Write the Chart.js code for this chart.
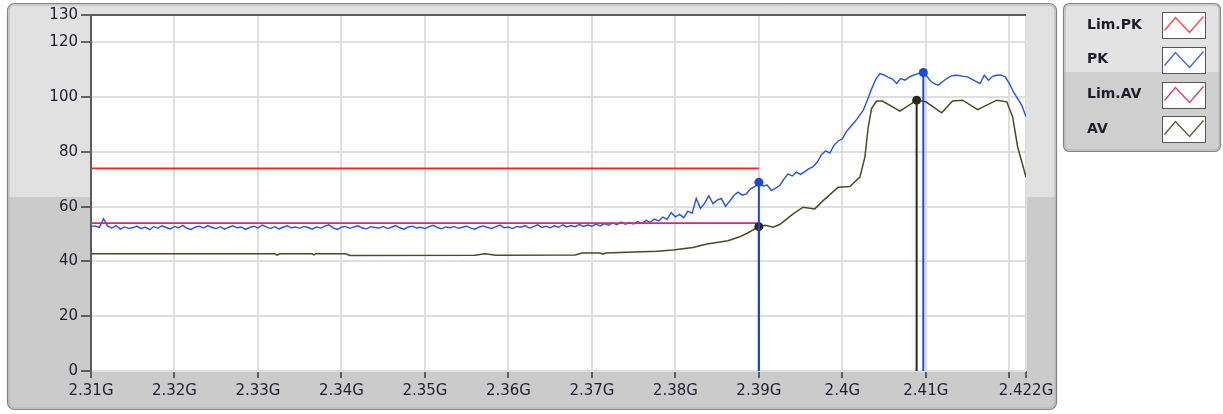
<!DOCTYPE html>
<html>
<head>
<meta charset="utf-8">
<script src="https://cdn.jsdelivr.net/npm/chart.js"></script>
<style>
  body { margin: 0; background: #fff; }
  canvas { display: block; }
</style>
</head>
<body>
<canvas id="grafico" width="1223" height="414"></canvas>
<script>
// eixo x em GHz
const xTickValues = [2.31, 2.32, 2.33, 2.34, 2.35, 2.36, 2.37, 2.38, 2.39, 2.40, 2.41, 2.42, 2.422];
const xTickLabels = ['2.31G', '2.32G', '2.33G', '2.34G', '2.35G', '2.36G', '2.37G', '2.38G', '2.39G', '2.4G', '2.41G', '', '2.422G'];
const yTickValues = [0, 20, 40, 60, 80, 100, 120, 130];

// limites
const limFreq = [2.31, 2.39];
const limPkLevel = [74, 74];
const limAvLevel = [54, 54];

// PK - varredura com passo fixo
const pkStart = 2.31;
const pkStep = 0.0005;
const pkLevel = [
  52.8, 53.0, 52.4, 55.6, 52.9, 52.2, 53.1, 51.8, 52.6, 52.1,
  52.3, 52.9, 52.0, 52.6, 51.6, 52.7, 52.2, 53.0, 52.4, 51.9,
  52.8, 52.3, 53.2, 52.1, 51.7, 52.6, 52.9, 52.2, 53.1, 52.4,
  52.0, 52.7, 51.8, 52.5, 53.0, 52.3, 52.6, 51.7, 52.4, 52.9,
  52.2, 53.3, 52.6, 52.0, 52.7, 51.9, 52.5, 53.0, 52.3, 52.6,
  52.1, 52.8, 52.4, 51.8, 52.6, 52.2, 52.9, 53.4, 52.3, 51.7,
  52.5, 52.8, 52.1, 52.6, 53.0, 52.2, 51.9, 52.7, 52.4, 52.2,
  52.8, 52.0, 52.5, 53.1, 52.3, 51.8, 52.6, 52.9, 52.2, 52.5,
  52.0, 52.7, 53.2, 52.4, 51.9, 52.6, 52.3, 52.8, 52.1, 52.5,
  52.9, 52.2, 51.8, 52.6, 53.0, 52.4, 52.1, 52.7, 53.3, 52.3,
  52.6, 52.0, 52.8, 52.5, 53.1, 52.2, 52.7, 53.4, 52.4, 52.9,
  52.3, 53.0, 52.5, 53.4, 52.6, 53.1, 52.7, 53.5, 52.8, 53.3,
  52.9, 53.6, 53.0, 53.8, 53.2, 54.1, 53.4, 54.4, 53.6, 54.2,
  53.7, 54.6, 53.8, 55.0, 54.3, 55.5, 54.8, 56.2, 55.4, 57.8,
  56.3, 57.2, 56.0, 58.4, 57.6, 63.0, 59.4, 61.2, 64.0, 61.1,
  62.4, 63.0, 60.2, 62.0, 64.1, 65.3, 64.2, 64.7, 66.5, 67.3,
  68.9, 67.6, 67.9, 65.9, 66.8, 67.7, 70.1, 72.0, 71.2, 72.6,
  71.8, 72.8, 73.9, 74.6, 76.3, 79.0, 80.4, 79.6, 82.4, 84.0,
  84.8, 87.5, 89.3, 91.0, 93.1, 95.2, 99.0, 103.0, 106.5, 108.6,
  108.1, 107.2, 106.6, 105.0, 106.8, 106.2, 107.3, 108.0, 108.5, 109.0,
  108.2, 106.1, 104.9, 104.4, 105.6, 106.8, 107.7, 108.0, 107.9, 107.6,
  107.4, 106.6, 105.8, 105.0, 108.0, 106.2, 107.6, 108.0, 108.1, 107.4,
  105.0, 101.9, 99.5, 97.0, 92.8
];

// AV
const avFreq = [2.31, 2.3320, 2.3323, 2.3326, 2.3365, 2.3367, 2.3369, 2.3405, 2.3410, 2.3560,
  2.3572, 2.3585, 2.3680, 2.3688, 2.3710, 2.3713, 2.3716, 2.3778, 2.3797, 2.3821,
  2.3838, 2.3863, 2.3877, 2.3886, 2.3900, 2.3908, 2.3917, 2.3925, 2.3941, 2.3953,
  2.3967, 2.3977, 2.3995, 2.4009, 2.4021, 2.4027, 2.4031, 2.4035, 2.4041, 2.4048,
  2.4069, 2.4089, 2.4100, 2.4119, 2.4132, 2.4144, 2.4162, 2.4185, 2.4197, 2.4204,
  2.4210, 2.4220];
const avLevel = [42.8, 42.8, 42.3, 42.8, 42.8, 42.4, 42.8, 42.8, 42.2, 42.3,
  42.8, 42.3, 42.4, 43.1, 43.1, 42.7, 43.1, 43.7, 44.2, 45.1,
  46.4, 47.6, 49.0, 50.3, 52.7, 53.2, 52.5, 53.5, 57.4, 59.8,
  59.2, 62.2, 67.1, 67.4, 70.8, 78.1, 89.1, 95.8, 98.6, 98.6,
  94.9, 98.9, 98.3, 94.3, 98.6, 98.9, 95.4, 98.9, 98.3, 92.8,
  81.8, 70.8];

// cursores
const cursorPkFreq = [2.39, 2.4097];
const cursorPkLevel = [68.9, 109.0];
const cursorAvFreq = [2.39, 2.4089];
const cursorAvLevel = [52.7, 98.9];

const corLimPk = '#ff1e1e';
const corPk = '#2652dc';
const corLimAv = '#d42a7e';
const corAv = '#4a4a26';

function pontos(fx, fy) {
  return fx.map(function (f, i) { return { x: f, y: fy[i] }; });
}

function cursor(f, nivel, cor, ordem) {
  return {
    label: '_cursor',
    data: [{ x: f, y: 0 }, { x: f, y: nivel }],
    borderColor: cor,
    backgroundColor: cor,
    borderWidth: 2,
    pointRadius: [0, 4.5],
    pointBorderWidth: 0,
    order: ordem
  };
}

const pkData = pkLevel.map(function (v, i) { return { x: pkStart + i * pkStep, y: v }; });

const datasets = [
  { label: 'Lim.PK', data: pontos(limFreq, limPkLevel), borderColor: corLimPk, legendColor: '#ff4545', borderWidth: 1.6, pointRadius: 0, order: 5 },
  { label: 'PK', data: pkData, borderColor: corPk, legendColor: '#3a64e6', borderWidth: 1.4, pointRadius: 0, order: 4 },
  { label: 'Lim.AV', data: pontos(limFreq, limAvLevel), borderColor: corLimAv, legendColor: '#e0348a', borderWidth: 1.8, pointRadius: 0, order: 3 },
  { label: 'AV', data: pontos(avFreq, avLevel), borderColor: corAv, legendColor: '#5c5c34', borderWidth: 1.5, pointRadius: 0, order: 2 }
];
for (let i = 0; i < cursorAvFreq.length; i++) {
  datasets.push(cursor(cursorAvFreq[i], cursorAvLevel[i], '#2a2a10', 1));
}
for (let i = 0; i < cursorPkFreq.length; i++) {
  datasets.push(cursor(cursorPkFreq[i], cursorPkLevel[i], '#1c4ad8', 0));
}

function caixa(ctx, x, y, w, h, r, split, corCima, corBaixo) {
  ctx.save();
  ctx.beginPath();
  ctx.roundRect(x, y, w, h, r);
  ctx.clip();
  ctx.fillStyle = corCima;
  ctx.fillRect(x, y, w, split - y);
  ctx.fillStyle = corBaixo;
  ctx.fillRect(x, split, w, y + h - split);
  ctx.restore();
  ctx.save();
  ctx.beginPath();
  ctx.roundRect(x + 1.5, y + 1.5, w - 3, h - 3, r - 1);
  ctx.strokeStyle = '#b4b4b4';
  ctx.lineWidth = 1;
  ctx.stroke();
  ctx.beginPath();
  ctx.roundRect(x, y, w, h, r);
  ctx.strokeStyle = '#858585';
  ctx.lineWidth = 1.2;
  ctx.stroke();
  ctx.restore();
}

const painel = {
  id: 'painel',
  beforeDraw: function (chart) {
    const ctx = chart.ctx;
    const a = chart.chartArea;
    ctx.save();
    ctx.fillStyle = '#fff';
    ctx.fillRect(0, 0, chart.width, chart.height);
    ctx.restore();
    caixa(ctx, 7.5, 3.5, 1049, 406, 7, 197, '#e1e1e1', '#cbcbcb');
    caixa(ctx, 1063.5, 3.5, 157, 148, 6, 72, '#e3e3e3', '#cfcfcf');
    ctx.save();
    ctx.fillStyle = '#fff';
    ctx.fillRect(a.left, a.top, a.right - a.left, a.bottom - a.top);
    ctx.restore();
  },
  afterDraw: function (chart) {
    // legenda
    const ctx = chart.ctx;
    ctx.save();
    ctx.font = 'bold 14px "DejaVu Sans"';
    ctx.textBaseline = 'middle';
    for (let i = 0; i < 4; i++) {
      const ds = chart.data.datasets[i];
      const cy = 25 + i * 34.8;
      ctx.fillStyle = '#1c1c2a';
      ctx.fillText(ds.label, 1087, cy);
      const bx = 1162.5, by = Math.round(cy - 13) + 0.5;
      ctx.fillStyle = '#fff';
      ctx.fillRect(bx, by, 43, 26);
      ctx.strokeStyle = '#555';
      ctx.lineWidth = 1;
      ctx.strokeRect(bx, by, 43, 26);
      ctx.beginPath();
      ctx.moveTo(bx + 2, by + 18);
      ctx.lineTo(bx + 13, by + 5);
      ctx.lineTo(bx + 27, by + 20);
      ctx.lineTo(bx + 41, by + 4);
      ctx.strokeStyle = ds.legendColor;
      ctx.lineWidth = 1.3;
      ctx.stroke();
    }
    ctx.restore();
  }
};

const myChart = new Chart(document.getElementById('grafico'), {
  type: 'line',
  data: { datasets: datasets },
  options: {
    responsive: false,
    animation: false,
    devicePixelRatio: 1,
    layout: { padding: { left: 0, top: 15, right: 197, bottom: 0 } },
    elements: { line: { tension: 0 } },
    plugins: {
      legend: { display: false },
      tooltip: { enabled: false }
    },
    scales: {
      x: {
        type: 'linear',
        min: 2.31,
        max: 2.422,
        afterBuildTicks: function (scale) {
          scale.ticks = xTickValues.map(function (v) { return { value: v }; });
        },
        afterFit: function (scale) { scale.height = 43; },
        border: { display: false },
        grid: { color: '#dedede', lineWidth: 2, tickColor: '#3a3a3a', tickLength: 7, tickWidth: 1.5 },
        ticks: {
          autoSkip: false,
          maxRotation: 0,
          padding: 4,
          color: '#1f1f30',
          font: { family: 'DejaVu Sans', size: 15 },
          callback: function (v, i) { return xTickLabels[i]; }
        }
      },
      y: {
        min: 0,
        max: 130,
        afterBuildTicks: function (scale) {
          scale.ticks = yTickValues.map(function (v) { return { value: v }; });
        },
        afterFit: function (scale) { scale.width = 91; },
        border: { display: true, color: '#5c5c5c', width: 2 },
        grid: {
          color: function (c) { return c.tick && c.tick.value === 130 ? '#5c5c5c' : '#dedede'; },
          lineWidth: 2,
          tickColor: '#3a3a3a',
          tickLength: 10,
          tickWidth: 1.5
        },
        ticks: {
          padding: 3,
          color: '#1f1f30',
          font: { family: 'DejaVu Sans', size: 15 }
        }
      }
    }
  },
  plugins: [painel]
});
</script>
</body>
</html>
